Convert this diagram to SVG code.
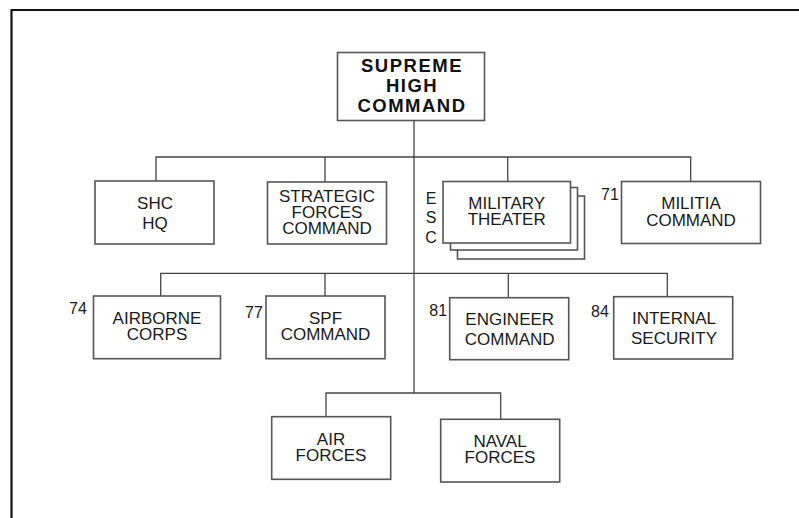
<svg xmlns="http://www.w3.org/2000/svg" width="799" height="518" viewBox="0 0 799 518">
<style>
.box{fill:#fff;stroke:#555;stroke-width:1.6}
.ln{fill:none;stroke:#444;stroke-width:1.3}
.t{font-family:"Liberation Sans",Arial,sans-serif;font-size:17px;fill:#1a1a1a;text-anchor:middle}
.b{font-family:"Liberation Sans",Arial,sans-serif;font-size:18.5px;font-weight:bold;fill:#111;text-anchor:middle;letter-spacing:1.5px}
.n{font-family:"Liberation Sans",Arial,sans-serif;font-size:16px;fill:#1a1a1a}
</style>
<rect width="799" height="518" fill="#fff"/>
<path d="M11.5 518 V10 H799" fill="none" stroke="#111" stroke-width="2.2"/>
<g id="connectors">
<path class="ln" d="M414 120.7 V393"/>
<path class="ln" d="M156 181 V157 H690.7 V181.5 M325 157 V182 M507.7 157 V181.5"/>
<path class="ln" d="M160.7 296 V273.3 H667.3 V296.7 M325 273.3 V296 M508.3 273.3 V297.7"/>
<path class="ln" d="M326 417 V393 H500.7 V419.3"/>
</g>
<g id="shc">
<rect class="box" x="337.5" y="52.5" width="147" height="68"/>
<text class="b" x="412" y="72">SUPREME</text>
<text class="b" x="412" y="92.3">HIGH</text>
<text class="b" x="412" y="111.7">COMMAND</text>
</g>
<g id="shc-hq">
<rect class="box" x="95" y="181" width="119" height="63"/>
<text class="t" x="155" y="209.3">SHC</text>
<text class="t" x="155" y="229.3">HQ</text>
</g>
<g id="strategic">
<rect class="box" x="267.5" y="182" width="119" height="62"/>
<text class="t" x="327" y="202.3">STRATEGIC</text>
<text class="t" x="327" y="218.3">FORCES</text>
<text class="t" x="327" y="234.3">COMMAND</text>
</g>
<g id="military-theater">
<rect class="box" x="457.5" y="196" width="127" height="63"/>
<rect class="box" x="450.5" y="187.5" width="127" height="62.5"/>
<rect class="box" x="443" y="181.5" width="127.5" height="61.5"/>
<text class="t" x="506.7" y="209">MILITARY</text>
<text class="t" x="506.7" y="225">THEATER</text>
<text class="n" x="431" y="204" text-anchor="middle">E</text>
<text class="n" x="431" y="223.3" text-anchor="middle">S</text>
<text class="n" x="431" y="243.3" text-anchor="middle">C</text>
</g>
<g id="militia">
<rect class="box" x="621.5" y="181.5" width="139" height="62"/>
<text class="t" x="691" y="209.3">MILITIA</text>
<text class="t" x="691" y="225.7">COMMAND</text>
<text class="n" x="601" y="200">71</text>
</g>
<g id="airborne">
<rect class="box" x="93.5" y="296" width="127" height="62.7"/>
<text class="t" x="157" y="324">AIRBORNE</text>
<text class="t" x="157" y="340">CORPS</text>
<text class="n" x="69" y="314.3">74</text>
</g>
<g id="spf">
<rect class="box" x="266" y="296" width="119" height="62.7"/>
<text class="t" x="325.5" y="324">SPF</text>
<text class="t" x="325.5" y="340">COMMAND</text>
<text class="n" x="245" y="318.3">77</text>
</g>
<g id="engineer">
<rect class="box" x="449.7" y="297.7" width="119" height="62"/>
<text class="t" x="509.7" y="325.3">ENGINEER</text>
<text class="t" x="509.7" y="345.3">COMMAND</text>
<text class="n" x="429.3" y="316">81</text>
</g>
<g id="internal">
<rect class="box" x="613.7" y="296.7" width="119" height="62.3"/>
<text class="t" x="674" y="324">INTERNAL</text>
<text class="t" x="674" y="344">SECURITY</text>
<text class="n" x="591" y="317.3">84</text>
</g>
<g id="air">
<rect class="box" x="271.7" y="416.7" width="119" height="62.6"/>
<text class="t" x="331" y="445">AIR</text>
<text class="t" x="331" y="461">FORCES</text>
</g>
<g id="naval">
<rect class="box" x="440.7" y="419.3" width="119" height="62.7"/>
<text class="t" x="500" y="447.3">NAVAL</text>
<text class="t" x="500" y="463.3">FORCES</text>
</g>
</svg>
